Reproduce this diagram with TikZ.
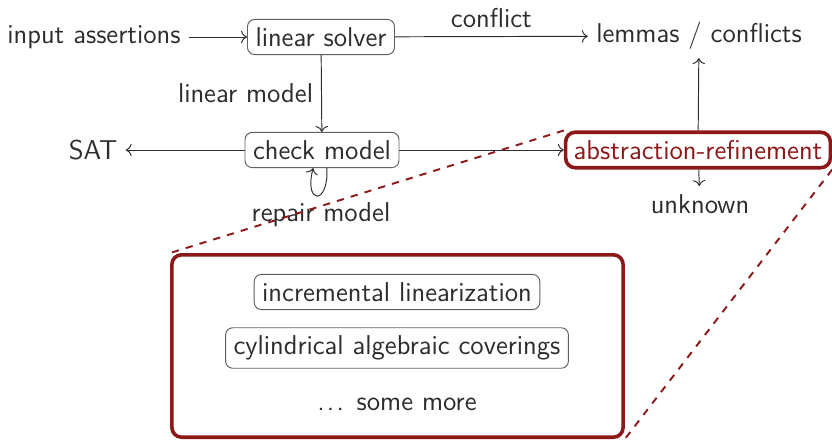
\documentclass[tikz,border=0pt]{standalone}
\usetikzlibrary{arrows.meta}
\definecolor{txt}{RGB}{45,45,45}
\definecolor{dred}{RGB}{140,24,24}
\definecolor{boxc}{RGB}{95,95,95}
\begin{document}
\begin{tikzpicture}[x=0.4167pt,y=-0.4167pt,
  every node/.style={font=\fontsize{11.35}{13.5}\selectfont\sffamily, text=txt},
  box/.style={draw=boxc, rounded corners=3pt, line width=0.4pt},
  redbox/.style={draw=dred, rounded corners=4pt, line width=1.5pt},
  conn/.style={->, draw=txt, line width=0.4pt},
  zoomline/.style={draw=dred, dashed, line width=0.8pt}]
\useasboundingbox (0,0) rectangle (832,443);
\node (inp) at (94,37) {input assertions};
\node[box] (ls) at (321,37) {linear solver};
\node (lem) at (699,36) {lemmas / conflicts};
\node[box] (chk) at (322,150) {check model};
\node (sat) at (93,150) {SAT};
\node[redbox, text=dred] (ar) at (698,150) {abstraction-refinement};
\node[anchor=north] (unk) at (700,186) {unknown};
\node (rep) at (321,215) {repair model};
\node[redbox, minimum width=188pt, minimum height=76pt] (big) at (397.5,346) {};
\node[box] (inc) at (397,292) {incremental linearization};
\node[box] (cyl) at (397,348) {cylindrical algebraic coverings};
\node (more) at (397,404) {.\kern0.9pt.\kern0.9pt.\kern1.6pt\ some more};
\draw[conn] (inp) -- (ls);
\draw[conn] (ls) -- node[above] {conflict} (lem);
\draw[conn] (ls) -- node[left] {linear model} (chk);
\draw[conn] (chk) -- (sat);
\draw[conn] (chk) -- (ar);
\draw[conn] (ar) -- (lem);
\draw[conn] (ar) -- (unk);
\draw[conn] ([xshift=2pt]chk.south) .. controls +(1pt,-15.5pt) and +(-4pt,-15.5pt) .. ([xshift=-3.7pt]chk.south);
\draw[zoomline] (ar.north west) -- (big.north west);
\draw[zoomline] (ar.south east) -- (big.south east);
\end{tikzpicture}
\end{document}
